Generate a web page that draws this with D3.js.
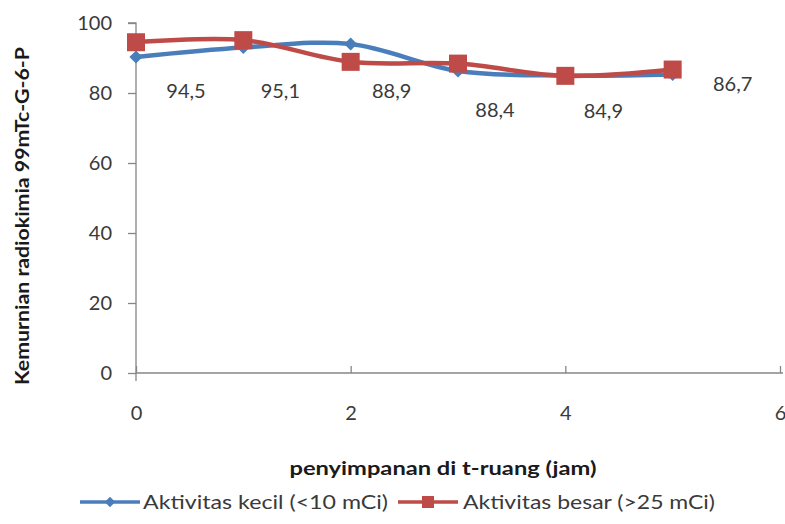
<!DOCTYPE html>
<html><head><meta charset="utf-8">
<script src="https://cdn.jsdelivr.net/npm/d3@7"></script>
<style>body{margin:0;background:#fff}svg{display:block}</style>
</head><body>
<svg id="c" width="785" height="524"></svg>
<script>
const hours = [0, 1, 2, 3, 4, 5];
const kecil = [90.3, 93.0, 94.0, 86.3, 85.0, 85.3];
const besar = [94.5, 95.1, 88.9, 88.4, 84.9, 86.7];
const besarLabels = ["94,5", "95,1", "88,9", "88,4", "84,9", "86,7"];
const xTicks = [0, 2, 4, 6];
const yTicks = [0, 20, 40, 60, 80, 100];
const seriesNames = ["Aktivitas kecil (<10 mCi)", "Aktivitas besar (>25 mCi)"];
const xTitle = "penyimpanan di t-ruang (jam)";
const yTitle = "Kemurnian radiokimia 99mTc-G-6-P";

// layout only: manual data-label offsets (px) as placed in the original
const labelOffsets = [[50, 56], [37, 58], [41, 36], [37, 53], [38, 42], [60, 21]];

const svg = d3.select("#c");
const font = "Lato, 'Open Sans', sans-serif";
const x = d3.scaleLinear().domain([0, 6]).range([136, 780]);
const y = d3.scaleLinear().domain([0, 100]).range([373, 23]);
const axisCol = "#868686";
const textCol = "#3a3a3a";
const blue = "#4A7EBB", red = "#BE4B48";

// y axis
const ya = svg.append("g").attr("transform", "translate(136,0)")
  .call(d3.axisLeft(y).tickValues(yTicks).tickSize(8).tickPadding(16).tickFormat(d3.format("d")));
ya.select(".domain").attr("stroke", axisCol).attr("stroke-width", 1.3).attr("d", "M-8,23H0V381");
ya.selectAll(".tick line").attr("stroke", axisCol).attr("stroke-width", 1.3);
ya.selectAll(".tick text").attr("fill", textCol).style("font-family", font).style("font-size", "20px");

// x axis
const xa = svg.append("g").attr("transform", "translate(0,373)")
  .call(d3.axisBottom(x).tickValues(xTicks).tickSizeInner(-7).tickSizeOuter(0).tickPadding(33).tickFormat(d3.format("d")));
xa.select(".domain").attr("stroke", axisCol).attr("stroke-width", 1.3).attr("d", "M136,0H783");
xa.selectAll(".tick line").attr("stroke", axisCol).attr("stroke-width", 1.3);
xa.selectAll(".tick text").attr("fill", textCol).style("font-family", font).style("font-size", "20px");

// lines
const line = d3.line().x((d, i) => x(hours[i])).y(d => y(d)).curve(d3.curveCatmullRom.alpha(0.5));
svg.append("path").datum(kecil).attr("d", line).attr("fill", "none").attr("stroke", blue).attr("stroke-width", 4.5);
svg.append("path").datum(besar).attr("d", line).attr("fill", "none").attr("stroke", red).attr("stroke-width", 4.5);

// blue diamonds
const dia = d3.symbol().type(d3.symbolDiamond2).size(110);
svg.selectAll(".dk").data(kecil).join("path")
  .attr("transform", (d, i) => `translate(${x(hours[i])},${y(d)})`)
  .attr("d", dia).attr("fill", blue);
// red squares
svg.selectAll(".sb").data(besar).join("rect")
  .attr("x", (d, i) => x(hours[i]) - 9).attr("y", d => y(d) - 9)
  .attr("width", 18).attr("height", 18).attr("fill", red);

// data labels
svg.selectAll(".lb").data(besar).join("text")
  .attr("x", (d, i) => x(hours[i]) + labelOffsets[i][0])
  .attr("y", (d, i) => y(d) + labelOffsets[i][1])
  .attr("text-anchor", "middle").attr("fill", textCol)
  .style("font-family", font).style("font-size", "20px")
  .text((d, i) => besarLabels[i]);

// axis titles
svg.append("text").attr("transform", "translate(29,216) rotate(-90)")
  .attr("text-anchor", "middle").attr("fill", "#1a1a1a")
  .style("font-family", font).style("font-size", "18px").style("font-weight", "bold")
  .attr("textLength", 338).attr("lengthAdjust", "spacingAndGlyphs")
  .text(yTitle);
svg.append("text").attr("x", 443).attr("y", 475)
  .attr("text-anchor", "middle").attr("fill", "#1a1a1a")
  .style("font-family", font).style("font-size", "19px").style("font-weight", "bold")
  .attr("textLength", 307).attr("lengthAdjust", "spacingAndGlyphs")
  .text(xTitle);

// legend
const dia2 = d3.symbol().type(d3.symbolDiamond2).size(70);
const lg = [
  {name: seriesNames[0], col: blue, x0: 80, x1: 140, tx: 143, tw: 245, sym: "d"},
  {name: seriesNames[1], col: red, x0: 398, x1: 458, tx: 463, tw: 252, sym: "s"}
];
lg.forEach(l => {
  svg.append("line").attr("x1", l.x0).attr("x2", l.x1).attr("y1", 502).attr("y2", 502)
    .attr("stroke", l.col).attr("stroke-width", 3.5);
  const cx = (l.x0 + l.x1) / 2;
  if (l.sym === "d") {
    svg.append("path").attr("transform", `translate(${cx},502)`).attr("d", dia2).attr("fill", l.col);
  } else {
    svg.append("rect").attr("x", cx - 6).attr("y", 496).attr("width", 12).attr("height", 12).attr("fill", l.col);
  }
  svg.append("text").attr("x", l.tx).attr("y", 509).attr("fill", textCol)
    .style("font-family", font).style("font-size", "20px")
    .attr("textLength", l.tw).attr("lengthAdjust", "spacingAndGlyphs")
    .text(l.name);
});
</script>
</body></html>
